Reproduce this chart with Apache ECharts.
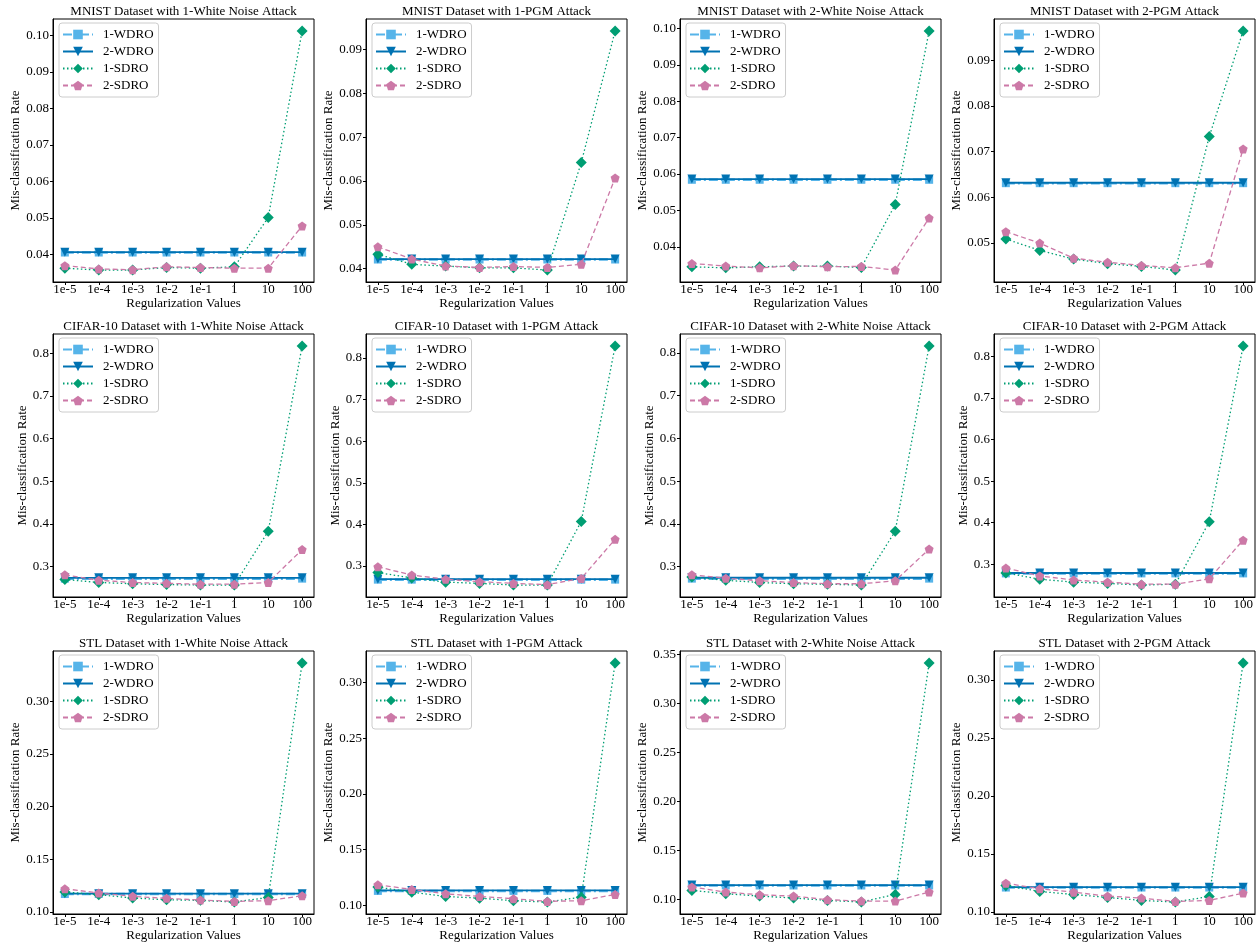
<!DOCTYPE html>
<html><head><meta charset="utf-8">
<script src="https://cdn.jsdelivr.net/npm/echarts@6/dist/echarts.min.js"></script>
<style>html,body{margin:0;padding:0;background:#fff}#c{width:1256px;height:947px}</style>
</head><body><div id="c"></div><script>
const categories = ['1e-5','1e-4','1e-3','1e-2','1e-1','1','10','100'];
const seriesNames = ['1-WDRO','2-WDRO','1-SDRO','2-SDRO'];
const titles = [
  'MNIST Dataset with 1-White Noise Attack','MNIST Dataset with 1-PGM Attack','MNIST Dataset with 2-White Noise Attack','MNIST Dataset with 2-PGM Attack',
  'CIFAR-10 Dataset with 1-White Noise Attack','CIFAR-10 Dataset with 1-PGM Attack','CIFAR-10 Dataset with 2-White Noise Attack','CIFAR-10 Dataset with 2-PGM Attack',
  'STL Dataset with 1-White Noise Attack','STL Dataset with 1-PGM Attack','STL Dataset with 2-White Noise Attack','STL Dataset with 2-PGM Attack'
];
// each panel: [1-WDRO, 2-WDRO, 1-SDRO, 2-SDRO]
const mnistWN1 = [
  [0.0405,0.0405,0.0405,0.0405,0.0405,0.0405,0.0405,0.0405],
  [0.0406,0.0406,0.0406,0.0406,0.0406,0.0406,0.0406,0.0406],
  [0.0362,0.0357,0.0357,0.0364,0.0362,0.0366,0.0501,0.1012],
  [0.0369,0.0360,0.0358,0.0366,0.0364,0.0362,0.0362,0.0478]
];
const mnistPGM1 = [
  [0.0421,0.0421,0.0421,0.0421,0.0421,0.0421,0.0421,0.0421],
  [0.0422,0.0422,0.0422,0.0422,0.0422,0.0422,0.0422,0.0422],
  [0.0433,0.0410,0.0406,0.0402,0.0402,0.0397,0.0642,0.0942],
  [0.0450,0.0422,0.0406,0.0403,0.0405,0.0403,0.0410,0.0607]
];
const mnistWN2 = [
  [0.0584,0.0584,0.0584,0.0584,0.0584,0.0584,0.0584,0.0584],
  [0.0586,0.0586,0.0586,0.0586,0.0586,0.0586,0.0586,0.0586],
  [0.0345,0.0342,0.0345,0.0347,0.0347,0.0343,0.0516,0.0993],
  [0.0354,0.0347,0.0342,0.0348,0.0345,0.0346,0.0336,0.0479]
];
const mnistPGM2 = [
  [0.0631,0.0631,0.0631,0.0631,0.0631,0.0631,0.0631,0.0631],
  [0.0632,0.0632,0.0632,0.0632,0.0632,0.0632,0.0632,0.0632],
  [0.0509,0.0484,0.0465,0.0455,0.0449,0.0441,0.0733,0.0964],
  [0.0525,0.0500,0.0467,0.0458,0.0451,0.0446,0.0456,0.0706]
];
const cifarWN1 = [
  [0.272,0.272,0.272,0.272,0.272,0.272,0.272,0.272],
  [0.274,0.274,0.274,0.274,0.274,0.274,0.274,0.274],
  [0.270,0.263,0.260,0.258,0.257,0.257,0.383,0.817],
  [0.281,0.268,0.263,0.261,0.259,0.259,0.263,0.340]
];
const cifarPGM1 = [
  [0.267,0.267,0.267,0.267,0.267,0.267,0.267,0.267],
  [0.268,0.268,0.268,0.268,0.268,0.268,0.268,0.268],
  [0.284,0.271,0.261,0.258,0.254,0.254,0.407,0.829],
  [0.298,0.278,0.268,0.262,0.258,0.255,0.270,0.364]
];
const cifarWN2 = [
  [0.272,0.272,0.272,0.272,0.272,0.272,0.272,0.272],
  [0.274,0.274,0.274,0.274,0.274,0.274,0.274,0.274],
  [0.276,0.268,0.263,0.260,0.259,0.257,0.383,0.816],
  [0.281,0.273,0.267,0.263,0.260,0.260,0.267,0.341]
];
const cifarPGM2 = [
  [0.278,0.278,0.278,0.278,0.278,0.278,0.278,0.278],
  [0.279,0.279,0.279,0.279,0.279,0.279,0.279,0.279],
  [0.279,0.264,0.257,0.254,0.250,0.252,0.402,0.825],
  [0.291,0.272,0.262,0.257,0.252,0.252,0.265,0.358]
];
const stlWN1 = [
  [0.1170,0.1170,0.1170,0.1170,0.1170,0.1170,0.1170,0.1170],
  [0.1173,0.1173,0.1173,0.1173,0.1173,0.1173,0.1173,0.1173],
  [0.1189,0.1164,0.1132,0.1116,0.1110,0.1094,0.1138,0.3362],
  [0.1220,0.1180,0.1148,0.1129,0.1113,0.1100,0.1107,0.1154]
];
const stlPGM1 = [
  [0.1130,0.1130,0.1130,0.1130,0.1130,0.1130,0.1130,0.1130],
  [0.1134,0.1134,0.1134,0.1134,0.1134,0.1134,0.1134,0.1134],
  [0.1164,0.1119,0.1080,0.1065,0.1042,0.1030,0.1074,0.3176],
  [0.1185,0.1143,0.1104,0.1080,0.1060,0.1036,0.1042,0.1098]
];
const stlWN2 = [
  [0.1142,0.1142,0.1142,0.1142,0.1142,0.1142,0.1142,0.1142],
  [0.1146,0.1146,0.1146,0.1146,0.1146,0.1146,0.1146,0.1146],
  [0.1092,0.1058,0.1034,0.1014,0.0990,0.0973,0.1051,0.3415],
  [0.1126,0.1075,0.1047,0.1034,0.0997,0.0983,0.0983,0.1075]
];
const stlPGM2 = [
  [0.1211,0.1211,0.1211,0.1211,0.1211,0.1211,0.1211,0.1211],
  [0.1214,0.1214,0.1214,0.1214,0.1214,0.1214,0.1214,0.1214],
  [0.1229,0.1177,0.1151,0.1126,0.1100,0.1086,0.1134,0.3146],
  [0.1249,0.1200,0.1171,0.1137,0.1120,0.1091,0.1100,0.1163]
];
const yTicks = [
  ['0.04','0.05','0.06','0.07','0.08','0.09','0.10'],
  ['0.04','0.05','0.06','0.07','0.08','0.09'],
  ['0.04','0.05','0.06','0.07','0.08','0.09','0.10'],
  ['0.05','0.06','0.07','0.08','0.09'],
  ['0.3','0.4','0.5','0.6','0.7','0.8'],
  ['0.3','0.4','0.5','0.6','0.7','0.8'],
  ['0.3','0.4','0.5','0.6','0.7','0.8'],
  ['0.3','0.4','0.5','0.6','0.7','0.8'],
  ['0.10','0.15','0.20','0.25','0.30'],
  ['0.10','0.15','0.20','0.25','0.30'],
  ['0.10','0.15','0.20','0.25','0.30','0.35'],
  ['0.10','0.15','0.20','0.25','0.30']
];
const panels = [mnistWN1,mnistPGM1,mnistWN2,mnistPGM2,cifarWN1,cifarPGM1,cifarWN2,cifarPGM2,stlWN1,stlPGM1,stlWN2,stlPGM2];

const FONT = 'Liberation Serif, DejaVu Serif, serif';
const FS = 13;
const colLeft = [53, 366, 680, 994];
const rowTop = [19, 334, 651];
const GW = 261, GH = 263;
const colors = ['#56B4E9','#0072B2','#009E73','#CC79A7'];
const pentagon = 'path://M0,-1 L0.951,-0.309 L0.588,0.809 L-0.588,0.809 L-0.951,-0.309 Z';
const styles = [
  {symbol:'rect', symbolSize:8, symbolRotate:0, lineStyle:{width:2.5, type:[9,3,2,3]}},
  {symbol:'triangle', symbolSize:9, symbolRotate:180, lineStyle:{width:1.8, type:'solid'}},
  {symbol:'diamond', symbolSize:11, symbolRotate:0, lineStyle:{width:1.3, type:[1.5,2.5]}},
  {symbol:pentagon, symbolSize:9, symbolRotate:0, lineStyle:{width:1.3, type:[5,3]}}
];

const grid=[], xAxis=[], yAxis=[], series=[], title=[], legend=[];
const xIdx = categories.map((c,i)=>i);
panels.forEach((p,i)=>{
  const r = Math.floor(i/4), c = i%4;
  const L = colLeft[c], T = rowTop[r];
  grid.push({left:L, top:T, width:GW, height:GH, show:true, borderColor:'#000', borderWidth:1, containLabel:false});
  let all = [].concat(...p);
  const mn = Math.min(...all), mx = Math.max(...all), rg = mx-mn;
  const ticks = yTicks[i];
  const tv = ticks.map(Number);
  xAxis.push({gridIndex:i, type:'value', min:-0.35, max:7.35,
    axisLine:{show:true, onZero:false, lineStyle:{color:'#000', width:1}},
    axisTick:{show:true, customValues:xIdx, length:3, lineStyle:{color:'#000'}},
    axisLabel:{customValues:xIdx, formatter:v=>categories[Math.round(v)], color:'#000', fontSize:FS, fontFamily:FONT, margin:1},
    splitLine:{show:false},
    name:'Regularization Values', nameLocation:'middle', nameGap:15,
    nameTextStyle:{color:'#000', fontSize:FS, fontFamily:FONT}
  });
  yAxis.push({gridIndex:i, type:'value', min:mn-0.05*rg, max:mx+0.05*rg,
    axisLine:{show:true, onZero:false, lineStyle:{color:'#000', width:1}},
    axisTick:{show:true, customValues:tv, length:3, lineStyle:{color:'#000'}},
    axisLabel:{customValues:tv, formatter:v=>{const k=tv.findIndex(t=>Math.abs(t-v)<1e-9);return k>=0?ticks[k]:'';}, color:'#000', fontSize:FS, fontFamily:FONT, margin:4},
    splitLine:{show:false},
    name:'Mis-classification Rate', nameLocation:'middle', nameGap:24,
    nameTextStyle:{color:'#000', fontSize:FS, fontFamily:FONT}
  });
  title.push({text:titles[i], left:L+GW/2, top:T-14, textAlign:'center', padding:0,
    textStyle:{color:'#000', fontSize:FS, fontWeight:'normal', fontFamily:FONT}});
  legend.push({left:L+6, top:T+4, orient:'vertical', data:seriesNames, itemWidth:30, itemHeight:12, itemGap:4,
    padding:[5,5,5,3], borderColor:'#ccc', borderWidth:1, borderRadius:3, backgroundColor:'rgba(255,255,255,0.8)',
    textStyle:{color:'#000', fontSize:FS, fontFamily:FONT, padding:[0,0,0,5]}, selectedMode:false});
  p.forEach((vals,k)=>{
    const st = styles[k];
    series.push({type:'line', name:seriesNames[k], xAxisIndex:i, yAxisIndex:i,
      data: vals.map((v,j)=>[j,v]),
      symbol:st.symbol, symbolSize:st.symbolSize, symbolRotate:st.symbolRotate, showAllSymbol:true,
      itemStyle:{color:colors[k]}, lineStyle:Object.assign({color:colors[k]}, st.lineStyle),
      emphasis:{disabled:true}, z:2+k});
  });
});
const chart = echarts.init(document.getElementById('c'), null, {renderer:'canvas'});
chart.setOption({animation:false, backgroundColor:'#fff', title, legend, grid, xAxis, yAxis, series});
</script></body></html>
